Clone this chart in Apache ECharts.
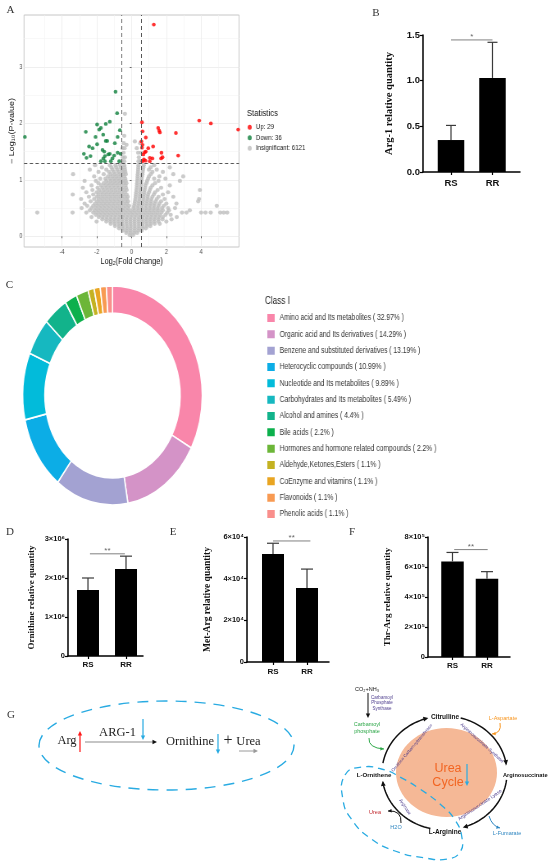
<!DOCTYPE html>
<html>
<head>
<meta charset="utf-8" />
<title>Arg metabolism figure</title>
<script src="https://cdn.jsdelivr.net/npm/echarts@6.0.0/dist/echarts.min.js"></script>
<style>
  html, body { margin: 0; padding: 0; background: #fff; }
  #wrap { position: relative; width: 550px; height: 868px; overflow: hidden; }
  /* the R panels (A, C) are squeezed horizontally in the source figure */
  #rplots { position: absolute; left: 0; top: 0; width: 671px; height: 520px; transform: scaleX(0.82); transform-origin: 0 0; }
  #main { position: absolute; left: 0; top: 0; width: 550px; height: 868px; }
</style>
</head>
<body>
<div id="wrap">
  <div id="rplots"></div>
  <div id="main"></div>
</div>
<script type="text/javascript">
const SERIF = "'Liberation Serif', 'Times New Roman', serif";
const SANS = "'Liberation Sans', Arial, sans-serif";

// ---------- A: volcano ----------
const fcCut = 0.585;   // log2(1.5)
const pCut = 1.301;    // -log10(0.05)
const insignificantCount = 6121;
const volcanoXTicks = [-4, -2, 0, 2, 4];
const volcanoYTicks = [0, 1, 2, 3];

const upPoints = [
  [1.28, 3.75], [0.6, 2.02], [0.63, 1.86], [0.57, 1.68], [0.63, 1.62], [0.82, 1.5],
  [0.76, 1.49], [0.71, 1.36], [0.63, 1.33], [0.96, 1.56], [1.24, 1.59], [1.05, 1.39],
  [1.2, 1.38], [1.53, 1.92], [1.59, 1.87], [1.63, 1.84], [1.72, 1.48], [1.78, 1.4],
  [1.7, 1.38], [2.55, 1.83], [2.68, 1.43], [3.89, 2.05], [4.56, 2.0], [6.13, 1.89],
  [0.82, 1.75], [0.8, 1.34], [1.05, 1.33], [0.68, 1.45], [0.6, 1.57]
];
const downPoints = [
  [-0.92, 2.56], [-0.83, 2.18], [-1.25, 2.03], [-1.48, 1.99], [-1.98, 1.98], [-1.76, 1.92],
  [-1.86, 1.89], [-2.63, 1.85], [-0.67, 1.88], [-1.63, 1.8], [-2.07, 1.76], [-0.8, 1.76],
  [-1.48, 1.69], [-1.4, 1.69], [-0.96, 1.65], [-1.98, 1.63], [-2.44, 1.59], [-2.24, 1.56],
  [-1.67, 1.53], [-1.57, 1.5], [-1.25, 1.46], [-1.34, 1.45], [-0.8, 1.48], [-0.63, 1.46],
  [-2.74, 1.46], [-2.59, 1.39], [-2.36, 1.42], [-1.53, 1.42], [-1.0, 1.43], [-1.76, 1.33],
  [-1.53, 1.33], [-1.19, 1.33], [-0.71, 1.33], [-6.13, 1.76], [-1.62, 1.38], [-1.1, 1.38]
];
// insignificant metabolites, read row by row off the grey cloud: [y, [x...]]
const grayRows = [
  [0.02, [-0.1, 0.08]],
  [0.06, [-0.3, -0.08, 0.14, 0.32]],
  [0.10, [-0.5, -0.28, -0.06, 0.16, 0.38, 0.58]],
  [0.14, [-0.72, -0.5, -0.27, -0.05, 0.18, 0.4, 0.62, 0.82]],
  [0.18, [-0.95, -0.72, -0.5, -0.27, -0.04, 0.19, 0.42, 0.65, 0.88, 1.08]],
  [0.22, [-1.2, -0.97, -0.74, -0.52, -0.28, -0.05, 0.18, 0.41, 0.64, 0.87, 1.1, 1.33, 1.62]],
  [0.26, [-2.01, -1.45, -1.22, -0.99, -0.76, -0.53, -0.3, -0.07, 0.16, 0.39, 0.62, 0.85, 1.08, 1.31, 1.55, 2.0]],
  [0.30, [-1.68, -1.45, -1.22, -0.99, -0.76, -0.53, -0.3, -0.07, 0.16, 0.39, 0.62, 0.85, 1.08, 1.31, 1.54, 1.78, 2.3]],
  [0.34, [-2.3, -1.88, -1.65, -1.42, -1.19, -0.96, -0.73, -0.5, -0.27, -0.04, 0.19, 0.42, 0.65, 0.88, 1.11, 1.34, 1.57, 1.8, 2.6]],
  [0.38, [-2.05, -1.82, -1.59, -1.36, -1.13, -0.9, -0.67, -0.44, -0.21, 0.02, 0.25, 0.48, 0.71, 0.94, 1.17, 1.4, 1.63, 1.95, 2.25]],
  [0.42, [-5.42, -3.39, -2.6, -2.2, -1.97, -1.74, -1.51, -1.28, -1.05, -0.82, -0.59, -0.36, -0.13, 0.1, 0.33, 0.56, 0.79, 1.02, 1.25, 1.48, 1.72, 2.05, 2.9, 3.16, 4.0, 4.25, 4.55, 5.1, 5.3, 5.5]],
  [0.46, [-2.4, -2.12, -1.89, -1.66, -1.43, -1.2, -0.97, -0.74, -0.51, -0.28, -0.05, 0.18, 0.41, 0.64, 0.87, 1.1, 1.33, 1.56, 1.8, 2.15, 3.35]],
  [0.50, [-2.87, -2.3, -2.05, -1.82, -1.59, -1.36, -1.13, -0.9, -0.67, -0.44, -0.21, 0.12, 0.35, 0.58, 0.81, 1.04, 1.27, 1.5, 1.75, 2.1, 2.5]],
  [0.54, [-2.55, -2.2, -1.97, -1.74, -1.51, -1.28, -1.05, -0.82, -0.59, -0.36, -0.14, 0.15, 0.38, 0.61, 0.84, 1.07, 1.3, 1.55, 1.85, 4.9]],
  [0.58, [-2.7, -2.1, -1.87, -1.64, -1.41, -1.18, -0.95, -0.72, -0.49, -0.26, 0.18, 0.41, 0.64, 0.87, 1.1, 1.33, 1.6, 2.0, 2.58]],
  [0.62, [-2.35, -1.98, -1.75, -1.52, -1.29, -1.06, -0.83, -0.6, -0.37, -0.2, 0.2, 0.43, 0.66, 0.89, 1.12, 1.38, 1.7, 3.83]],
  [0.66, [-2.9, -2.15, -1.88, -1.65, -1.42, -1.19, -0.96, -0.73, -0.5, -0.27, 0.22, 0.45, 0.68, 0.91, 1.14, 1.45, 1.9, 3.88]],
  [0.70, [-2.45, -2.0, -1.77, -1.54, -1.31, -1.08, -0.85, -0.62, -0.4, -0.22, 0.24, 0.47, 0.7, 0.93, 1.2, 1.55, 2.4]],
  [0.74, [-3.38, -2.2, -1.9, -1.66, -1.43, -1.2, -0.97, -0.74, -0.51, -0.28, 0.25, 0.48, 0.71, 0.95, 1.28, 1.8]],
  [0.78, [-2.6, -2.0, -1.75, -1.52, -1.29, -1.06, -0.83, -0.6, -0.38, 0.27, 0.5, 0.73, 1.0, 1.35, 2.1]],
  [0.82, [-2.25, -1.85, -1.6, -1.37, -1.14, -0.91, -0.68, -0.45, -0.28, 0.28, 0.51, 0.75, 1.05, 1.5, 3.93]],
  [0.86, [-2.8, -1.95, -1.68, -1.45, -1.22, -0.99, -0.76, -0.53, -0.32, 0.3, 0.53, 0.78, 1.1, 1.7]],
  [0.90, [-2.3, -1.75, -1.5, -1.27, -1.04, -0.81, -0.58, -0.35, 0.31, 0.54, 0.8, 1.2, 2.2]],
  [0.94, [-1.9, -1.6, -1.35, -1.12, -0.89, -0.66, -0.45, -0.3, 0.32, 0.56, 0.85, 1.35]],
  [0.98, [-2.7, -2.05, -1.45, -1.2, -0.97, -0.74, -0.52, -0.34, 0.33, 0.57, 0.9, 1.55, 2.78]],
  [1.02, [-1.8, -1.5, -1.25, -1.02, -0.8, -0.58, -0.36, 0.34, 0.58, 0.95, 1.3, 1.95]],
  [1.06, [-2.15, -1.35, -1.1, -0.87, -0.64, -0.42, 0.35, 0.6, 1.0, 1.6, 2.97]],
  [1.10, [-3.36, -1.6, -1.2, -0.95, -0.7, -0.48, -0.33, 0.36, 0.62, 1.1, 2.4]],
  [1.14, [-1.9, -1.3, -1.02, -0.76, -0.52, -0.36, 0.37, 0.64, 1.2, 1.8]],
  [1.18, [-2.4, -1.45, -1.1, -0.82, -0.57, -0.38, 0.38, 0.66, 1.0, 1.45]],
  [1.22, [-1.7, -1.15, -0.88, -0.62, -0.4, 0.39, 0.68, 1.1, 2.2]],
  [1.26, [-2.1, -1.25, -0.92, -0.66, -0.42, 0.4, 0.7, 1.3]],
  [1.33, [-0.55, -0.42, 0.4, 0.52]],
  [1.40, [-0.5, -0.38, 0.42]],
  [1.48, [-0.46, 0.38, 0.55]],
  [1.56, [-0.52, -0.4, 0.3]],
  [1.65, [-0.45, 0.5]],
  [1.78, [-0.42]]
];
const grayExtra = [[-0.38, 2.17], [0.19, 1.68], [-0.29, 1.62]];

// ---------- C: Class I composition ----------
const classNames = [
  'Amino acid and Its metabolites', 'Organic acid and Its derivatives', 'Benzene and substituted derivatives',
  'Heterocyclic compounds', 'Nucleotide and Its metabolites', 'Carbohydrates and Its metabolites',
  'Alcohol and amines', 'Bile acids', 'Hormones and hormone related compounds',
  'Aldehyde,Ketones,Esters', 'CoEnzyme and vitamins', 'Flavonoids', 'Phenolic acids'
];
const classCounts = [30, 13, 12, 10, 9, 5, 4, 2, 2, 1, 1, 1, 1];
const classColors = [
  '#F986AA', '#D493C7', '#A3A2D2', '#0CADE6', '#02BBDA', '#16B8C0', '#12B38B',
  '#0CB04C', '#6CB638', '#C4B222', '#E9A522', '#F89A52', '#F98F8C'
];

// ---------- B, D, E, F: bar panels ----------
const groups = ['RS', 'RR'];
const arg1Mean = [0.35, 1.03];
const arg1Sd = [0.16, 0.39];
const ornMean = [1.69e6, 2.23e6];
const ornSd = [0.31e6, 0.33e6];
const metArgMean = [5.18e4, 3.55e4];
const metArgSd = [0.52e4, 0.91e4];
const thrArgMean = [6.37e5, 5.22e5];
const thrArgSd = [0.6e5, 0.47e5];
const sigB = { from: 0, to: 1, y: 1.446, mark: '*' };
const sigD = { from: 0.05, to: 0.97, y: 2.62e6, mark: '**' };
const sigE = { from: 0, to: 1.1, y: 5.81e4, mark: '**' };
const sigF = { from: 0.05, to: 1.02, y: 7.16e5, mark: '**' };

// ================= R panels (A + C) =================
const rc = echarts.init(document.getElementById('rplots'));
const grayPoints = grayRows.flatMap(r => r[1].map(x => [x, r[0]])).concat(grayExtra);
const classTotal = classCounts.reduce((a, b) => a + b, 0);
const classPct = classCounts.map(c => parseFloat((c / classTotal * 100).toFixed(2)));
const upName = 'Up: ' + upPoints.length;
const downName = 'Down: ' + downPoints.length;
const insigName = 'Insignificant: ' + insignificantCount;

rc.setOption({
  animation: false,
  textStyle: { fontFamily: SANS },
  grid: [{ left: 29.3, top: 15, width: 262.2, height: 232, show: true, borderColor: '#C6C6C6', borderWidth: 1 }],
  xAxis: [{
    type: 'value', min: -6.18, max: 6.18,
    name: 'Log\u2082(Fold Change)', nameLocation: 'middle', nameGap: 8,
    nameTextStyle: { fontSize: 9, color: '#111' },
    axisLine: { show: false },
    axisTick: { show: true, customValues: volcanoXTicks, length: 2, lineStyle: { color: '#555' } },
    axisLabel: { customValues: volcanoXTicks, fontSize: 7, color: '#4D4D4D', margin: 2 },
    splitLine: { show: true, lineStyle: { color: '#EBEBEB', width: 0.8 } },
    minorTick: { show: false, splitNumber: 2 },
    minorSplitLine: { show: true, lineStyle: { color: '#F4F4F4', width: 0.6 } }
  }],
  yAxis: [{
    type: 'value', min: -0.19, max: 3.92,
    name: '\u2212 Log\u2081\u2080(P-value)', nameLocation: 'middle', nameGap: 10,
    nameTextStyle: { fontSize: 9, color: '#111' },
    axisLine: { show: false },
    axisTick: { show: true, customValues: volcanoYTicks, length: 2, lineStyle: { color: '#555' } },
    axisLabel: { customValues: volcanoYTicks, fontSize: 7, color: '#4D4D4D', margin: 2 },
    splitLine: { show: true, lineStyle: { color: '#EBEBEB', width: 0.8 } },
    minorTick: { show: false, splitNumber: 2 },
    minorSplitLine: { show: true, lineStyle: { color: '#F4F4F4', width: 0.6 } }
  }],
  legend: [
    {
      data: [upName, downName, insigName], orient: 'vertical', left: 302, top: 123, padding: 0,
      icon: 'circle', itemWidth: 5, itemHeight: 5, itemGap: 2, selectedMode: false,
      textStyle: { fontSize: 7.5, color: '#222', lineHeight: 8.5 }
    },
    {
      data: classNames, orient: 'vertical', left: 324, top: 312, padding: 0,
      icon: 'rect', itemWidth: 11, itemHeight: 10, itemGap: 4.33, selectedMode: false,
      formatter: n => n + ' ( ' + classPct[classNames.indexOf(n)] + '% )',
      textStyle: { fontSize: 8.2, color: '#333' }
    }
  ],
  graphic: { elements: [
    { type: 'text', x: 301, y: 113, silent: true, style: { text: 'Statistics', fontSize: 9.5, fill: '#111', fontFamily: SANS, verticalAlign: 'middle' } },
    { type: 'text', x: 323, y: 301, silent: true, style: { text: 'Class I', fontSize: 10, fill: '#222', fontFamily: SANS, verticalAlign: 'middle' } }
  ] },
  series: [
    {
      type: 'scatter', name: insigName, data: grayPoints, silent: true,
      symbolSize: [5.2, 4.2], itemStyle: { color: '#BEBEBE' },
      markLine: {
        silent: true, symbol: 'none', label: { show: false },
        lineStyle: { color: '#555', type: [4, 3], width: 1 },
        data: [{ xAxis: -fcCut }, { xAxis: fcCut }, { yAxis: pCut }]
      }
    },
    { type: 'scatter', name: downName, data: downPoints, silent: true, symbolSize: [4.6, 3.8], itemStyle: { color: '#0F7F3C' } },
    { type: 'scatter', name: upName, data: upPoints, silent: true, symbolSize: [4.6, 3.8], itemStyle: { color: '#FF0000' } },
    {
      type: 'pie', name: 'Class I', center: [137.2, 395.5], radius: [82.5, 109.5],
      startAngle: 90, clockwise: true, silent: true,
      label: { show: false }, labelLine: { show: false },
      itemStyle: { borderColor: '#fff', borderWidth: 1.6 },
      data: classNames.map((n, i) => ({ name: n, value: classCounts[i], itemStyle: { color: classColors[i] } }))
    }
  ]
});

// ================= bar panels + diagram =================
const SUP = { 4: '\u2074', 5: '\u2075', 6: '\u2076' };
function sciLabel(exp) {
  return v => v === 0 ? '0' : Math.round(v / Math.pow(10, exp)) + '\u00d710' + SUP[exp];
}

const barPanels = [
  { mean: arg1Mean, sd: arg1Sd, sig: sigB, name: 'Arg-1 relative quantity',
    left: 423, top: 35, width: 97, height: 137, xMin: -0.675, xMax: 1.663,
    yMax: 1.5, yInterval: 0.5, fmt: v => v.toFixed(1), nameGap: 28, nameSize: 10.5,
    barWidth: 26.5, cap: 5, catSize: 9.5, tickSize: 9.5, catMargin: 6 },
  { mean: ornMean, sd: ornSd, sig: sigD, name: 'Ornithine relative quantity',
    left: 68, top: 539, width: 75, height: 117, xMin: -0.526, xMax: 1.447,
    yMax: 3e6, yInterval: 1e6, fmt: sciLabel(6), nameGap: 31.5, nameSize: 9,
    barWidth: 22, cap: 6, catSize: 8, tickSize: 7.5, catMargin: 5 },
  { mean: metArgMean, sd: metArgSd, sig: sigE, name: 'Met-Arg relative quantity',
    left: 247, top: 537, width: 82, height: 125, xMin: -0.765, xMax: 1.647,
    yMax: 6e4, yInterval: 2e4, fmt: sciLabel(4), nameGap: 34, nameSize: 9.5,
    barWidth: 22, cap: 6, catSize: 8, tickSize: 7.5, catMargin: 6 },
  { mean: thrArgMean, sd: thrArgSd, sig: sigF, name: 'Thr-Arg relative quantity',
    left: 428, top: 537, width: 82, height: 120, xMin: -0.71, xMax: 1.667,
    yMax: 8e5, yInterval: 2e5, fmt: sciLabel(5), nameGap: 35.5, nameSize: 9,
    barWidth: 22.5, cap: 6, catSize: 8, tickSize: 7.5, catMargin: 5 }
];

const grids = [], xAxes = [], yAxes = [], series = [];
barPanels.forEach((p, i) => {
  grids.push({ left: p.left, top: p.top, width: p.width, height: p.height });
  xAxes.push({
    type: 'value', gridIndex: i, min: p.xMin, max: p.xMax,
    axisLine: { show: true, onZero: false, lineStyle: { color: '#000', width: 1.5 } },
    axisTick: { show: true, customValues: [0, 1], length: 3, lineStyle: { color: '#000', width: 1.2 } },
    axisLabel: { customValues: [0, 1], formatter: v => groups[v], fontWeight: 'bold', fontSize: p.catSize, color: '#111', margin: p.catMargin },
    splitLine: { show: false }
  });
  yAxes.push({
    type: 'value', gridIndex: i, min: 0, max: p.yMax, interval: p.yInterval,
    name: p.name, nameLocation: 'middle', nameGap: p.nameGap,
    nameTextStyle: { fontFamily: SERIF, fontWeight: 'bold', fontSize: p.nameSize, color: '#111' },
    axisLine: { show: true, onZero: false, lineStyle: { color: '#000', width: 1.5 } },
    axisTick: { show: true, length: 3, lineStyle: { color: '#000', width: 1.2 } },
    axisLabel: { formatter: p.fmt, fontWeight: 'bold', fontSize: p.tickSize, color: '#111', margin: 3 },
    splitLine: { show: false }
  });
  series.push({
    type: 'bar', xAxisIndex: i, yAxisIndex: i, barWidth: p.barWidth, silent: true,
    itemStyle: { color: '#000' },
    data: p.mean.map((m, k) => [k, m])
  });
  series.push({
    type: 'custom', xAxisIndex: i, yAxisIndex: i, silent: true, z: 3,
    data: p.mean.map((m, k) => [k, m, m + p.sd[k]]),
    renderItem: (params, api) => {
      const base = api.coord([api.value(0), api.value(1)]);
      const top = api.coord([api.value(0), api.value(2)]);
      const st = { stroke: '#3A3A3A', lineWidth: 1.2 };
      return { type: 'group', children: [
        { type: 'line', shape: { x1: base[0], y1: base[1], x2: top[0], y2: top[1] }, style: st },
        { type: 'line', shape: { x1: top[0] - p.cap, y1: top[1], x2: top[0] + p.cap, y2: top[1] }, style: st }
      ] };
    }
  });
  series.push({
    type: 'custom', xAxisIndex: i, yAxisIndex: i, silent: true, z: 3,
    data: [[p.sig.from, p.sig.to, p.sig.y]],
    renderItem: (params, api) => {
      const a = api.coord([api.value(0), api.value(2)]);
      const b = api.coord([api.value(1), api.value(2)]);
      return { type: 'group', children: [
        { type: 'line', shape: { x1: a[0], y1: a[1], x2: b[0], y2: b[1] }, style: { stroke: '#808080', lineWidth: 1 } },
        { type: 'text', style: { text: p.sig.mark, x: (a[0] + b[0]) / 2, y: a[1] + 1, align: 'center', verticalAlign: 'bottom', fontSize: 8, fontFamily: SANS, fill: '#666' } }
      ] };
    }
  });
});

// ---- diagram helpers (panel G) ----
function arrowHead(x, y, ang, size, color) {
  const a1 = ang + Math.PI - 0.45, a2 = ang + Math.PI + 0.45;
  return { type: 'polygon', silent: true, shape: { points: [[x, y],
    [x + size * Math.cos(a1), y + size * Math.sin(a1)], [x + size * Math.cos(a2), y + size * Math.sin(a2)]] },
    style: { fill: color } };
}
function arrow(x1, y1, x2, y2, color, width, headColor) {
  const ang = Math.atan2(y2 - y1, x2 - x1);
  return [
    { type: 'line', silent: true, shape: { x1: x1, y1: y1, x2: x2 - 3 * Math.cos(ang), y2: y2 - 3 * Math.sin(ang) }, style: { stroke: color, lineWidth: width } },
    arrowHead(x2, y2, ang, 5, headColor || color)
  ];
}
function curveArrow(p0, cp, p1, color) {
  const ang = Math.atan2(p1[1] - cp[1], p1[0] - cp[0]);
  return [
    { type: 'bezierCurve', silent: true, shape: { x1: p0[0], y1: p0[1], cpx1: cp[0], cpy1: cp[1], x2: p1[0], y2: p1[1] }, style: { stroke: color, lineWidth: 1, fill: null } },
    arrowHead(p1[0], p1[1], ang, 4, color)
  ];
}
function ringArc(c, rx, ry, a0, a1) {
  const pts = [];
  for (let k = 0; k <= 24; k++) {
    const t = (a0 + (a1 - a0) * k / 24) * Math.PI / 180;
    pts.push([c[0] + rx * Math.cos(t), c[1] - ry * Math.sin(t)]);
  }
  const t1 = a1 * Math.PI / 180;
  const ang = Math.atan2(ry * Math.cos(t1), rx * Math.sin(t1));
  const end = pts.pop();
  pts.push([end[0] - 3 * Math.cos(ang), end[1] - 3 * Math.sin(ang)]);
  return [
    { type: 'polyline', silent: true, shape: { points: pts }, style: { stroke: '#111', lineWidth: 1.5, fill: null } },
    arrowHead(end[0], end[1], ang, 5.5, '#111')
  ];
}
function txt(text, x, y, size, color, o) {
  o = o || {};
  return { type: 'text', x: x, y: y, rotation: (o.rot || 0) * Math.PI / 180, silent: true,
    style: { text: text, fontSize: size, fontFamily: o.family || SANS, fontWeight: o.weight || 'normal',
      fill: color, align: o.align || 'center', verticalAlign: 'middle', lineHeight: o.lh } };
}

const BLUE = '#29ABE2';
const PURPLE = '#4B3A8C';
const ringC = [444.5, 773];
const ringArcs = [[170, 105], [75, 8], [-7, -73], [-103, -172]];

const diagram = [].concat(
  // panel letters
  [['A', 10.5, 10.5], ['B', 376, 13], ['C', 9.5, 285.5], ['D', 10, 532], ['E', 173, 532], ['F', 352, 532], ['G', 11, 715]]
    .map(l => txt(l[0], l[1], l[2], 11, '#333', { family: SERIF })),
  // G left: reaction
  [{ type: 'ellipse', silent: true, shape: { cx: 166.5, cy: 745.5, rx: 127.5, ry: 44.5 },
     style: { fill: null, stroke: BLUE, lineWidth: 1.4, lineDash: [11, 8] } }],
  txt('Arg', 67, 741, 12.5, '#222', { family: SERIF }),
  arrow(80, 752, 80, 731, '#FF1A1A', 1.2),
  arrow(85, 742, 157, 742, '#8C8C8C', 1.1, '#111'),
  txt('ARG-1', 117.5, 733, 12.5, '#222', { family: SERIF }),
  arrow(143, 719, 143, 740, BLUE, 1.2),
  txt('Ornithine', 190, 742, 12.5, '#222', { family: SERIF }),
  arrow(218, 734, 218, 754, BLUE, 1.2),
  txt('+', 228, 741, 16, '#222', { family: SERIF }),
  txt('Urea', 248.5, 742, 12.5, '#222', { family: SERIF }),
  arrow(239, 751, 258, 751, '#9A9A9A', 1),
  // G right: urea cycle
  [{ type: 'ellipse', silent: true, shape: { cx: 446.5, cy: 772.5, rx: 50.5, ry: 44.5 }, style: { fill: '#F5B896' } }],
  txt('Urea', 448, 769, 12.5, '#F26522'),
  txt('Cycle', 448, 783, 12.5, '#F26522'),
  arrow(467, 764, 467, 786, BLUE, 1.2),
  ...ringArcs.map(a => ringArc(ringC, 62.5, 57, a[0], a[1])),
  txt('Citrulline', 445, 717, 6.5, '#111', { weight: 'bold' }),
  txt('Arginosuccinate', 503, 775, 5.7, '#111', { weight: 'bold', align: 'left' }),
  txt('L-Arginine', 445, 832, 6.5, '#111', { weight: 'bold' }),
  txt('L-Ornithene', 374, 775, 6.1, '#111', { weight: 'bold' }),
  txt('CO\u2082+NH\u2083', 367, 689, 5.5, '#111'),
  arrow(368, 693, 368, 718, '#111', 1),
  txt('Carbamoyl\nPhosphate\nSynthase', 382, 703, 4.5, PURPLE, { lh: 5.5 }),
  txt('Carbamoyl\nphosphate', 367, 728, 5.5, '#2FA84A', { lh: 7 }),
  curveArrow([369, 738], [368, 748], [384, 749], '#2FA84A'),
  txt('L-Aspartate', 503, 718, 5.5, '#F7941D'),
  curveArrow([500, 723], [502, 733], [492, 734], '#F7941D'),
  txt('L-Fumarate', 507, 833, 5.5, '#2E86C1'),
  curveArrow([489, 816], [492, 826], [500, 828], '#2E86C1'),
  txt('Urea', 375, 812, 5.5, '#C1272D'),
  txt('H2O', 396, 827, 5.5, '#2E86C1'),
  curveArrow([401, 823], [402, 810], [388, 811], '#111'),
  txt('Ornithine Carbamoyltransferase', 412, 748, 4.3, PURPLE, { rot: 50 }),
  txt('Argininosuccinate Synthase', 482, 743, 4.6, PURPLE, { rot: -42 }),
  txt('Argininosuccinate Lyase', 480, 805, 4.8, PURPLE, { rot: 34 }),
  txt('Arginase', 405, 807, 4.6, PURPLE, { rot: -56 }),
  [{ type: 'polygon', silent: true,
     shape: { points: [[345, 775], [362, 767], [385, 770], [400, 777], [420, 789], [440, 804], [455, 820],
       [462, 838], [460, 852], [448, 859], [425, 858], [395, 851], [370, 838], [352, 820], [343, 800]], smooth: 0.5 },
     style: { fill: null, stroke: BLUE, lineWidth: 1.3, lineDash: [7, 5] } }]
);

const main = echarts.init(document.getElementById('main'));
main.setOption({
  animation: false,
  textStyle: { fontFamily: SANS },
  grid: grids,
  xAxis: xAxes,
  yAxis: yAxes,
  series: series,
  graphic: { elements: diagram }
});
</script>
</body>
</html>
